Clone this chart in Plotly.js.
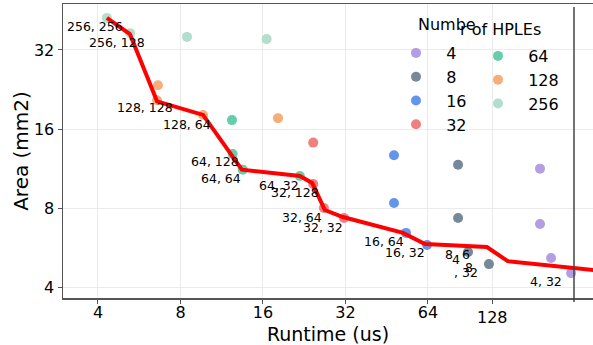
<!DOCTYPE html>
<html>
<head>
<meta charset="utf-8">
<script src="https://cdn.plot.ly/plotly-3.0.1.min.js"></script>
<style>
html,body{margin:0;padding:0;background:#fff;}
#chart{width:593px;height:345px;}
</style>
</head>
<body>
<div id="chart"></div>
<script>
// ---- data (runtime in us, area in mm2) ----
const hpleCounts = ["4", "8", "16", "32", "64", "128", "256"];
const runtime4   = [164, 164, 180, 213];
const area4      = [11.3, 6.95, 5.16, 4.52];
const runtime8   = [82.4, 82.4, 89.6, 106.8];
const area8      = [11.7, 7.33, 5.44, 4.89];
const runtime16  = [48.1, 48.1, 53.2, 63.5];
const area16     = [12.7, 8.36, 6.43, 5.78];
const runtime32  = [24.4, 24.4, 26.7, 31.6];
const area32     = [14.2, 9.88, 8.0, 7.33];
const runtime64  = [12.33, 12.4, 13.5, 21.8];
const area64     = [17.3, 12.85, 11.2, 10.6];
const runtime128 = [6.62, 6.57, 9.67, 18.15];
const area128    = [23.5, 20.6, 18.1, 17.6];
const runtime256 = [4.31, 5.24, 8.45, 16.5];
const area256    = [42.4, 37.1, 35.9, 35.2];

const paretoRuntime = [4.31, 5.23, 6.57, 9.67, 13.4, 21.8, 24.2, 26.9, 31.3, 51.9, 62.4, 105, 125, 216, 280];
const paretoArea    = [42.4, 36.8, 20.4, 18.1, 11.2, 10.6, 9.96, 7.86, 7.39, 6.43, 5.83, 5.68, 5.02, 4.73, 4.6];

const xTickValues = [4, 8, 16, 32, 64, 110];
const xTickLabels = ["4", "8", "16", "32", "64", ""];
const yTickValues = [4, 8, 16, 32];
const yTickLabels = ["4", "8", "16", "32"];

const pointLabels = ["256, 256", "256, 128", "128, 128", "128, 64", "64, 128", "64, 64", "64, 32",
  "32, 128", "32, 64", "32, 32", "16, 64", "16, 32", "4, 32", "8", "4", "6", "8", ", 32"];

// ---- presentation ----
const W = 593, H = 345;
const L = 63, R = 593, T = 4, B = 298;
const labelPos = [[95,27],[117,42],[145,108],[187,124],[215,162],[221,178],[279,185],[295,192],
  [302,217],[323,227],[384,241],[405,253],[546,281],[449,255],[456,259],[466,255],[469,267],[466,272]];
const colors = ["#B39DE3", "#778899", "#6495ED", "#F08080", "#66CDAA", "#F5AD7A", "#B3DDCD"];
const FONT = "DejaVu Sans, Liberation Sans, sans-serif";
const PAD = "\u00a0\u00a0";

const seriesX = [runtime4, runtime8, runtime16, runtime32, runtime64, runtime128, runtime256];
const seriesY = [area4, area8, area16, area32, area64, area128, area256];

const px = (x) => (x - L) / (R - L);
const py = (y) => (B - y) / (B - T);

const traces = [];
for (let i = 0; i < hpleCounts.length; i++) {
  traces.push({
    type: "scatter", mode: "markers",
    x: seriesX[i], y: seriesY[i],
    name: PAD + hpleCounts[i],
    legend: i < 4 ? "legend" : "legend2",
    marker: {color: colors[i], size: 10, line: {width: 0}},
    hoverinfo: "skip"
  });
}
traces.push({
  type: "scatter", mode: "lines",
  x: paretoRuntime, y: paretoArea,
  line: {color: "#FF0000", width: 4},
  showlegend: false, hoverinfo: "skip"
});

const annotations = pointLabels.map((t, i) => ({
  text: t, xref: "paper", yref: "paper",
  x: px(labelPos[i][0]), y: py(labelPos[i][1]),
  xanchor: "center", yanchor: "middle", showarrow: false,
  font: {family: FONT, size: 12.5, color: "#000"}
}));
annotations.push({text: "Numbe", xref: "paper", yref: "paper", x: px(446.5), y: py(25),
  xanchor: "center", yanchor: "middle", showarrow: false, font: {family: FONT, size: 16, color: "#000"}});
annotations.push({text: "r of HPLEs", xref: "paper", yref: "paper", x: px(500), y: py(30),
  xanchor: "center", yanchor: "middle", showarrow: false, font: {family: FONT, size: 16, color: "#000"}});
annotations.push({text: "128", xref: "paper", yref: "paper", x: px(492), y: py(317),
  xanchor: "center", yanchor: "middle", showarrow: false, font: {family: FONT, size: 16, color: "#000"}});

const legendCommon = {
  bgcolor: "rgba(0,0,0,0)", borderwidth: 0,
  font: {family: FONT, size: 16, color: "#000"},
  xanchor: "left", yanchor: "top", tracegroupgap: 0
};

const layout = {
  width: W, height: H,
  margin: {l: L, r: W - R, t: T, b: H - B, pad: 0},
  paper_bgcolor: "#fff", plot_bgcolor: "#fff",
  font: {family: FONT, size: 16, color: "#000"},
  xaxis: {
    type: "log", range: [Math.log10(Math.pow(2, 1.576)), Math.log10(Math.pow(2, 8.0))],
    tickvals: xTickValues, ticktext: xTickLabels,
    showgrid: true, gridcolor: "#ebebeb", gridwidth: 1,
    showline: true, linecolor: "#555", linewidth: 1.5, mirror: true,
    ticks: "outside", ticklen: 4, tickcolor: "#555", tickwidth: 1,
    ticklabelstandoff: -5,
    tickfont: {family: FONT, size: 16, color: "#000"},
    zeroline: false,
    title: {text: "Runtime (us)", font: {family: FONT, size: 19, color: "#000"}, standoff: 8}
  },
  yaxis: {
    type: "log", range: [Math.log10(Math.pow(2, 1.861)), Math.log10(Math.pow(2, 5.582))],
    tickvals: yTickValues, ticktext: yTickLabels,
    showgrid: true, gridcolor: "#ebebeb", gridwidth: 1,
    showline: true, linecolor: "#555", linewidth: 1.5, mirror: false,
    ticks: "outside", ticklen: 4, tickcolor: "#555", tickwidth: 1,
    tickfont: {family: FONT, size: 16, color: "#000"},
    zeroline: false,
    title: {text: "Area (mm2)", font: {family: FONT, size: 20, color: "#000"}, standoff: 0}
  },
  legend: Object.assign({}, legendCommon, {x: px(396), y: py(36)}),
  legend2: Object.assign({}, legendCommon, {x: px(478), y: py(39)}),
  annotations: annotations,
  shapes: [{
    type: "line", xref: "paper", yref: "paper",
    x0: px(574), x1: px(574), y0: py(302), y1: py(7),
    line: {color: "#444", width: 1.5}
  }]
};

Plotly.newPlot("chart", traces, layout, {displayModeBar: false, staticPlot: true});
</script>
</body>
</html>
